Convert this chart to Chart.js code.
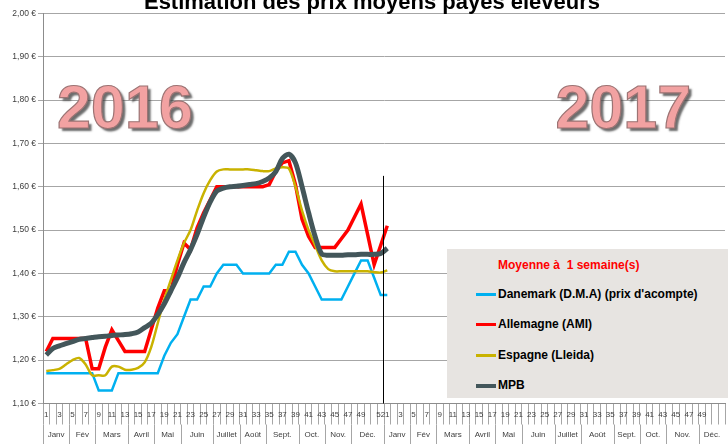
<!DOCTYPE html>
<html>
<head>
<meta charset="utf-8">
<title>Estimation des prix moyens payés éleveurs</title>
<script src="https://cdn.jsdelivr.net/npm/chart.js"></script>
<style>
    body { margin: 0; background: #fff; }
    #wrap { position: relative; width: 728px; height: 444px; overflow: hidden; }
    #legend { position: absolute; left: 447px; top: 249px; width: 281px; height: 149px; background: #e7e4e1;
              font-family: "Liberation Sans", Arial, sans-serif; font-weight: bold; font-size: 12px; color: #000; }
    #legend .ttl { position: absolute; left: 51px; top: 9px; color: #ff0000; white-space: pre; }
    #legend .row { position: absolute; left: 29px; height: 14px; white-space: pre; }
    #legend .sw { position: absolute; left: 0; width: 20px; top: 6px; }
    #legend .tx { position: absolute; left: 22px; top: 0; }
</style>
</head>
<body>
<div id="wrap">
    <canvas id="chart" width="728" height="444"></canvas>
    <div id="legend"></div>
</div>
<script>
const title = 'Estimation des prix moyens payés éleveurs';
const legendTitle = 'Moyenne à  1 semaine(s)';
const years = ['2016', '2017'];

// semaines 2016 puis 2017
const weeks2016 = [1,2,3,4,5,6,7,8,9,10,11,12,13,14,15,16,17,18,19,20,21,22,23,24,25,26,
                   27,28,29,30,31,32,33,34,35,36,37,38,39,40,41,42,43,44,45,46,47,48,49,50,51,52];
const weeks2017 = [1,2,3,4,5,6,7,8,9,10,11,12,13,14,15,16,17,18,19,20,21,22,23,24,25,26,
                   27,28,29,30,31,32,33,34,35,36,37,38,39,40,41,42,43,44,45,46,47,48,49,50,51,52];
const monthNames = ['Janv', 'Fév', 'Mars', 'Avril', 'Mai', 'Juin', 'Juillet', 'Août', 'Sept.', 'Oct.', 'Nov.', 'Déc.'];
const monthWeeks2016 = [4, 4, 5, 4, 4, 5, 4, 4, 5, 4, 4, 5];
const monthWeeks2017 = [4, 4, 5, 4, 4, 5, 4, 5, 4, 4, 5, 4];
const shownWeeks2016 = [1,3,5,7,9,11,13,15,17,19,21,23,25,27,29,31,33,35,37,39,41,43,45,47,49,52];
const shownWeeks2017 = [1,3,5,7,9,11,13,15,17,19,21,23,25,27,29,31,33,35,37,39,41,43,45,47,49];

const danemark = [1.17,1.17,1.17,1.17,1.17,1.17,1.17,1.17,1.13,1.13,1.13,1.17,1.17,1.17,1.17,1.17,1.17,1.17,
                  1.21,1.24,1.26,1.30,1.34,1.34,1.37,1.37,1.40,1.42,1.42,1.42,1.40,1.40,1.40,1.40,1.40,
                  1.42,1.42,1.45,1.45,1.42,1.40,1.37,1.34,1.34,1.34,1.34,1.37,1.40,1.43,1.43,1.39,1.35,1.35];
const allemagne = [1.22,1.25,1.25,1.25,1.25,1.25,1.25,1.18,1.18,1.23,1.27,1.245,1.22,1.22,1.22,1.22,
                   1.27,1.32,1.36,1.36,1.42,1.47,1.455,1.505,1.54,1.57,1.60,1.60,1.60,1.60,1.60,1.60,1.60,1.60,
                   1.605,1.635,1.655,1.66,1.605,1.525,1.485,1.46,1.46,1.46,1.46,1.48,1.50,1.53,1.56,1.49,1.42,1.465,1.51];
const espagne = [1.175,1.177,1.18,1.19,1.20,1.205,1.19,1.165,1.165,1.165,1.185,1.185,1.178,1.178,1.182,1.195,
                 1.23,1.285,1.34,1.385,1.43,1.47,1.50,1.545,1.585,1.615,1.635,1.64,1.64,1.64,1.64,1.64,1.638,1.636,
                 1.636,1.642,1.645,1.642,1.60,1.545,1.50,1.465,1.43,1.41,1.405,1.405,1.405,1.405,1.405,1.405,1.403,1.402,1.407];
const mpb = [1.212,1.227,1.233,1.238,1.243,1.248,1.25,1.252,1.254,1.255,1.257,1.258,1.259,1.261,1.265,1.275,
             1.285,1.305,1.33,1.36,1.39,1.425,1.455,1.49,1.53,1.565,1.59,1.597,1.60,1.601,1.603,1.605,1.607,1.612,
             1.62,1.635,1.665,1.675,1.655,1.60,1.54,1.485,1.445,1.442,1.442,1.442,1.443,1.443,1.444,1.444,1.444,1.446,1.458];

const yearMarkTop = 1.625;   // haut du trait noir entre 2016 et 2017
const FONT = '"Liberation Sans", Arial, sans-serif';

const labels = weeks2016.map(w => '2016-' + w).concat(weeks2017.map(w => '2017-' + w));
const tickText = labels.map(l => {
    const [yr, w] = l.split('-').map(Number);
    const list = yr === 2016 ? shownWeeks2016 : shownWeeks2017;
    return list.includes(w) ? String(w) : '';
});

// décor : titre coupé, grandes années, trait noir, ligne des mois
const decor = {
    id: 'decor',
    afterDatasetsDraw(chart) {
        const ctx = chart.ctx, x = chart.scales.x, y = chart.scales.y;
        ctx.save();
        // trait noir fin 2016
        const bx = Math.round((x.getPixelForValue(weeks2016.length - 1) + x.getPixelForValue(weeks2016.length)) / 2) - 0.5;
        ctx.strokeStyle = '#000';
        ctx.lineWidth = 1;
        ctx.beginPath();
        ctx.moveTo(bx, y.getPixelForValue(yearMarkTop));
        ctx.lineTo(bx, chart.chartArea.bottom);
        ctx.stroke();
        ctx.restore();
    },
    afterDraw(chart) {
        const ctx = chart.ctx, x = chart.scales.x, y = chart.scales.y;
        ctx.save();
        // titre
        ctx.font = 'bold 22px ' + FONT;
        ctx.fillStyle = '#000';
        ctx.textAlign = 'center';
        ctx.textBaseline = 'alphabetic';
        ctx.fillText(title, 372, 9);

        // grandes années
        ctx.font = 'bold 61px ' + FONT;
        ctx.textBaseline = 'middle';
        [[years[0], 12.0], [years[1], 88.0]].forEach(([t, idx]) => {
            const px = x.getPixelForValue(idx), py = y.getPixelForValue(1.775);
            ctx.save();
            ctx.shadowColor = 'rgba(60,60,60,0.75)';
            ctx.shadowOffsetX = 3;
            ctx.shadowOffsetY = 3;
            ctx.shadowBlur = 2;
            ctx.fillStyle = '#f2a2a2';
            ctx.fillText(t, px, py);
            ctx.restore();
            ctx.lineWidth = 1.2;
            ctx.strokeStyle = '#9c7474';
            ctx.strokeText(t, px, py);
        });

        // ligne des mois
        const half = (x.getPixelForValue(1) - x.getPixelForValue(0)) / 2;
        const rowTop = x.top + 21, rowBot = chart.height;
        ctx.strokeStyle = '#a6a6a6';
        ctx.lineWidth = 1;
        ctx.fillStyle = '#404040';
        ctx.font = '8px ' + FONT;
        ctx.textAlign = 'center';
        let idx = 0;
        [monthWeeks2016, monthWeeks2017].forEach(list => {
            list.forEach((n, m) => {
                const x0 = x.getPixelForValue(idx) - half;
                const x1 = x.getPixelForValue(idx + n - 1) + half;
                const sx = Math.round(x0) + 0.5;
                ctx.beginPath();
                ctx.moveTo(sx, rowTop);
                ctx.lineTo(sx, rowBot);
                ctx.stroke();
                ctx.fillText(monthNames[m], (x0 + x1) / 2, rowTop + 10);
                idx += n;
            });
        });
        ctx.restore();
    }
};

const ctx = document.getElementById('chart').getContext('2d');
const chart = new Chart(ctx, {
    type: 'line',
    data: {
        labels: labels,
        datasets: [
            { label: 'Danemark (D.M.A) (prix d\'acompte)', data: danemark, borderColor: '#00b0f0', backgroundColor: '#00b0f0',
              borderWidth: 2.5, pointRadius: 0, tension: 0, order: 3 },
            { label: 'Allemagne (AMI)', data: allemagne, borderColor: '#ff0000', backgroundColor: '#ff0000',
              borderWidth: 3.5, pointRadius: 0, tension: 0, order: 2 },
            { label: 'Espagne (Lleida)', data: espagne, borderColor: '#c9b200', backgroundColor: '#c9b200',
              borderWidth: 2.5, pointRadius: 0, tension: 0.3, order: 1 },
            { label: 'MPB', data: mpb, borderColor: '#43565a', backgroundColor: '#43565a',
              borderWidth: 5, pointRadius: 0, tension: 0.3, order: 0 }
        ]
    },
    options: {
        responsive: false,
        animation: false,
        layout: { padding: { top: 13.3, right: 3, bottom: 0, left: 0 } },
        plugins: { legend: { display: false }, tooltip: { enabled: false } },
        scales: {
            x: {
                offset: true,
                grid: { offset: true, drawOnChartArea: false, tickLength: 21, color: '#a6a6a6' },
                border: { color: '#8c8c8c' },
                ticks: { autoSkip: false, maxRotation: 0, minRotation: 0, padding: -15,
                         color: '#404040', font: { size: 8, family: FONT },
                         callback: (v, i) => tickText[i] },
                afterFit: s => { s.height = 40.5; }
            },
            y: {
                min: 1.1,
                max: 2.0,
                grid: { color: '#a6a6a6', tickLength: 5 },
                border: { color: '#8c8c8c' },
                ticks: { stepSize: 0.1, padding: 2, color: '#404040', font: { size: 8.5, family: FONT },
                         callback: v => v.toFixed(2).replace('.', ',') + ' €' },
                afterFit: s => { s.width = 43; }
            }
        }
    },
    plugins: [decor]
});

// légende HTML construite depuis les séries
const lg = document.getElementById('legend');
const t = document.createElement('div');
t.className = 'ttl';
t.textContent = legendTitle;
lg.appendChild(t);
chart.data.datasets.forEach((ds, i) => {
    const row = document.createElement('div');
    row.className = 'row';
    row.style.top = (38 + i * 30.3) + 'px';
    const sw = document.createElement('div');
    sw.className = 'sw';
    sw.style.height = (i === 3 ? 4 : 3) + 'px';
    sw.style.background = ds.borderColor;
    const tx = document.createElement('div');
    tx.className = 'tx';
    tx.textContent = ds.label;
    row.appendChild(sw);
    row.appendChild(tx);
    lg.appendChild(row);
});
</script>
</body>
</html>
